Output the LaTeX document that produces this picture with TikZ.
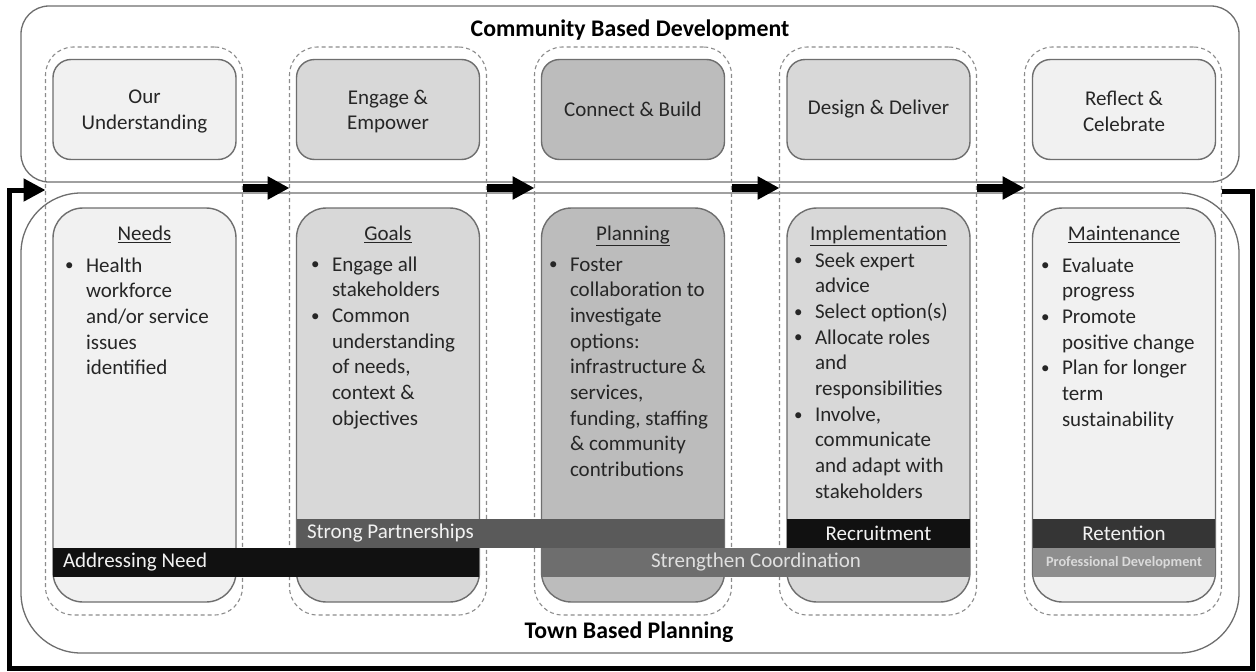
\documentclass[tikz,border=0pt]{standalone}
\usepackage{fontspec}
\setmainfont{Carlito}
\usetikzlibrary{arrows.meta,calc}
\definecolor{edgegray}{HTML}{6E6E6E}
\definecolor{dashgray}{HTML}{8C8C8C}
\definecolor{txt}{HTML}{262626}
\definecolor{fillA}{HTML}{F1F1F1}
\definecolor{fillB}{HTML}{D8D8D8}
\definecolor{fillC}{HTML}{BCBCBC}
\definecolor{barblack}{HTML}{111111}
\definecolor{bardark}{HTML}{353535}
\definecolor{barmid}{HTML}{5A5A5A}
\definecolor{barcoord}{HTML}{6E6E6E}
\definecolor{barlight}{HTML}{8E8E8E}
\definecolor{bartxt}{HTML}{F2F2F2}
\newcommand{\bodyfont}{\fontsize{21}{25.7}\selectfont}
\newcommand{\titlefont}{\fontsize{23.8}{28}\selectfont\bfseries}
\newcommand{\bl}{\makebox[21pt][l]{\raisebox{1.2pt}{\fontsize{17}{17}\selectfont\textbullet}}}
\newcommand{\cl}{\hspace*{21pt}}
\begin{document}
\begin{tikzpicture}[x=1pt,y=-1pt,
  every node/.style={inner sep=0pt, outer sep=0pt},
  bigrect/.style={draw=edgegray, line width=1.3pt, rounded corners=#1},
  dashcol/.style={draw=dashgray, line width=1.1pt, dash pattern=on 4pt off 3pt,
    rounded corners=28pt, minimum width=197pt, minimum height=568pt},
  topbox/.style={draw=edgegray, line width=1.4pt, rounded corners=18pt,
    minimum width=183pt, minimum height=100pt, align=flush center, text=txt, font=\bodyfont},
  toplabel/.style={align=flush center, text=txt, font=\bodyfont, yshift=-2pt},
  lowbox/.style={draw=edgegray, line width=1.4pt, rounded corners=30pt,
    minimum width=183pt, minimum height=394pt},
  colhead/.style={anchor=base, text=txt, font=\bodyfont},
  blist/.style={anchor=base west, text=txt, font=\bodyfont},
  bandbar/.style={minimum height=29pt, text=bartxt, font=\bodyfont},
  maintitle/.style={font=\titlefont, text=black},
  stepflow/.style={line width=8pt, -{Triangle[length=22pt,width=22pt]}},
  loopline/.style={line width=5pt, line join=miter, -{Triangle[length=22pt,width=22pt]}}
]
\useasboundingbox (0,0) rectangle (1256,672);
\fill[white] (0,0) rectangle (1256,672);

% big frames
\node[bigrect=28pt, minimum width=1218pt, minimum height=176pt] (cbd) at (630,94) {};
\node[bigrect=60pt, minimum width=1218pt, minimum height=460pt] (tbp) at (630,423) {};
\node[maintitle] (cbdt) at (630,30) {Community Based Development};
\node[maintitle] (tbpt) at (629,632) {Town Based Planning};

% dashed columns
\node[dashcol] (d1) at (144,331) {};
\node[dashcol] (d2) at (388,331) {};
\node[dashcol] (d3) at (633,331) {};
\node[dashcol] (d4) at (878,331) {};
\node[dashcol] (d5) at (1123,331) {};

% top boxes
\node[topbox, fill=fillA, label={[toplabel]center:Our\\Understanding}] (t1) at (144.5,109.5) {};
\node[topbox, fill=fillB, label={[toplabel]center:Engage \&\\Empower}] (t2) at (388,109.5) {};
\node[topbox, fill=fillC] (t3) at (633,109.5) {Connect \& Build};
\node[topbox, fill=fillB] (t4) at (878.5,109.5) {Design \& Deliver};
\node[topbox, fill=fillA, label={[toplabel]center:Reflect \&\\Celebrate}] (t5) at (1124,109.5) {};

% lower boxes
\node[lowbox, fill=fillA] (b1) at (144.5,405) {};
\node[lowbox, fill=fillB] (b2) at (388,405) {};
\node[lowbox, fill=fillC] (b3) at (633,405) {};
\node[lowbox, fill=fillB] (b4) at (878.5,405) {};
\node[lowbox, fill=fillA] (b5) at (1124,405) {};

\node[colhead] (h1) at (144.5,240.5) {\underline{Needs}};
\node[colhead] (h2) at (388,240.5) {\underline{Goals}};
\node[colhead] (h3) at (633,240.5) {\underline{Planning}};
\node[colhead] (h4) at (878.5,240.5) {\underline{Implementation}};
\node[colhead] (h5) at (1124,240.5) {\underline{Maintenance}};

\node[blist] (l1) at (65,272) {\begin{tabular}[t]{@{}l@{}}
\bl Health\\ \cl workforce\\ \cl and/or service\\ \cl issues\\ \cl identified
\end{tabular}};
\node[blist] (l2) at (311,271) {\begin{tabular}[t]{@{}l@{}}
\bl Engage all\\ \cl stakeholders\\ \bl Common\\ \cl understanding\\ \cl of needs,\\ \cl context \&\\ \cl objectives
\end{tabular}};
\node[blist] (l3) at (549,271) {\begin{tabular}[t]{@{}l@{}}
\bl Foster\\ \cl collaboration to\\ \cl investigate\\ \cl options:\\ \cl infrastructure \&\\ \cl services,\\ \cl funding, staffing\\ \cl \& community\\ \cl contributions
\end{tabular}};
\node[blist] (l4) at (794,267) {\begin{tabular}[t]{@{}l@{}}
\bl Seek expert\\ \cl advice\\ \bl Select option(s)\\ \bl Allocate roles\\ \cl and\\ \cl responsibilities\\ \bl Involve,\\ \cl communicate\\ \cl and adapt with\\ \cl stakeholders
\end{tabular}};
\node[blist] (l5) at (1041,272) {\begin{tabular}[t]{@{}l@{}}
\bl Evaluate\\ \cl progress\\ \bl Promote\\ \cl positive change\\ \bl Plan for longer\\ \cl term\\ \cl sustainability
\end{tabular}};

% bars
\node[bandbar, fill=barmid, anchor=west, minimum width=427pt, text width=407pt,
  inner xsep=10pt, align=flush left] (sp) at (297,533.5) {Strong Partnerships};
\node[bandbar, fill=barblack, anchor=west, minimum width=426pt, text width=406pt,
  inner xsep=10pt, align=flush left] (an) at (53,562.5) {Addressing Need};
\node[bandbar, fill=barcoord, minimum width=428pt, text=bartxt!92!black] (sc) at (756,562.5) {Strengthen Coordination};
\node[bandbar, fill=barblack, minimum width=183pt] (rc) at (878.5,533.5) {Recruitment};
\node[bandbar, fill=bardark, minimum width=182pt] (rt) at (1124,533.5) {Retention};
\node[bandbar, fill=barlight, minimum width=182pt, text=bartxt!90!black,
  font=\fontsize{14.3}{16}\selectfont\bfseries] (pd) at (1124,562.5) {Professional Development};

% flow arrows
\draw[stepflow] (d1.east |- 0,188) -- (d2.west |- 0,188);
\draw[stepflow] (d2.east |- 0,188) -- (d3.west |- 0,188);
\draw[stepflow] (d3.east |- 0,188) -- (d4.west |- 0,188);
\draw[stepflow] (d4.east |- 0,188) -- (d5.west |- 0,188);

% feedback loop
\coordinate (loopR) at (1252,668);
\coordinate (loopL) at (9,190);
\draw[loopline] (d5.east |- 0,191) -| (loopR) -| (loopL) -- (d1.west |- 0,190);
\end{tikzpicture}
\end{document}
